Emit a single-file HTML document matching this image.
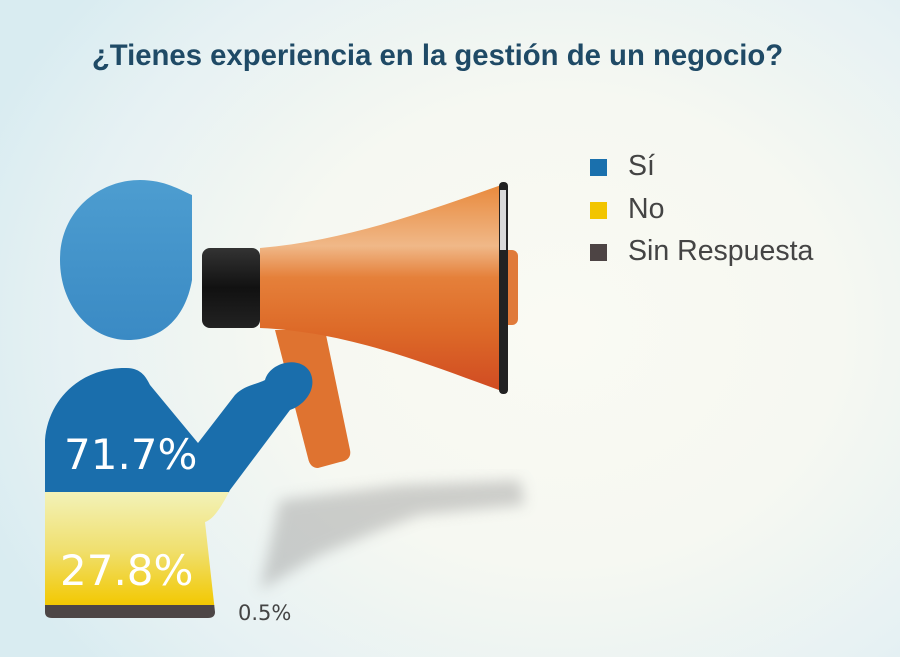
<!DOCTYPE html>
<html><head><meta charset="utf-8"><style>
html,body{margin:0;padding:0}
body{width:900px;height:657px;overflow:hidden;position:relative;font-family:"Liberation Sans",sans-serif;
background:radial-gradient(ellipse 620px 520px at 560px 330px,#fafaf3 0%,#f6f8f2 45%,#e6f1f3 80%,#d9ecf1 100%);}
.title{position:absolute;left:0;width:875px;top:39px;text-align:center;font-weight:bold;font-size:29.3px;color:#1f4a66;white-space:nowrap}
.lg{position:absolute;left:590px;font-size:28.5px;color:#444}
.lg span{position:absolute;left:0;top:6px;width:17px;height:17px}
.lg b{font-weight:normal;position:absolute;left:38px;top:-3px;white-space:nowrap}
</style></head><body>
<div class="title">¿Tienes experiencia en la gestión de un negocio?</div>
<div class="lg" style="top:153px"><span style="background:#1a70ad"></span><b>Sí</b></div>
<div class="lg" style="top:196px"><span style="background:#f2c500"></span><b>No</b></div>
<div class="lg" style="top:238px"><span style="background:#4d4444"></span><b>Sin Respuesta</b></div>
<svg width="900" height="657" style="position:absolute;left:0;top:0">
<defs>
<filter id="bl"><feGaussianBlur stdDeviation="7"/></filter>
<linearGradient id="head" x1="0" y1="0" x2="0" y2="1"><stop offset="0" stop-color="#4d9dd0"/><stop offset="1" stop-color="#3a8ac4"/></linearGradient>
<linearGradient id="yel" x1="0" y1="0" x2="0" y2="1"><stop offset="0" stop-color="#f3f2b8"/><stop offset="0.5" stop-color="#f0e070"/><stop offset="1" stop-color="#f2c800"/></linearGradient>
<linearGradient id="horn" x1="0" y1="0" x2="0" y2="1"><stop offset="0" stop-color="#e8883a"/><stop offset="0.3" stop-color="#f0b888"/><stop offset="0.45" stop-color="#e5803a"/><stop offset="0.7" stop-color="#dd6a28"/><stop offset="1" stop-color="#d04a22"/></linearGradient>
<linearGradient id="blk" x1="0" y1="0" x2="0" y2="1"><stop offset="0" stop-color="#333"/><stop offset="0.5" stop-color="#111"/><stop offset="1" stop-color="#222"/></linearGradient>
<clipPath id="bodyc"><path d="M45,440 C48,400 80,368 125,368 C140,368 145,375 150,385 L198,443 L235,395 C245,385 255,385 265,380 C270,362 300,355 310,372 C318,388 305,405 290,410 L230,490 C220,510 212,520 205,522 L215,612 Q215,618 208,618 L52,618 Q45,618 45,612 Z"/></clipPath>
</defs>
<g filter="url(#bl)" opacity="0.45" fill="#999">
<path d="M280,500 L400,485 L520,480 L525,505 L420,515 L380,530 L320,555 L260,590 Z"/>
</g>
<path d="M60,260 C60,210 100,180 140,180 C165,180 180,190 192,195 L192,280 C185,320 160,340 128,340 C90,340 60,305 60,260 Z" fill="url(#head)"/>
<path d="M275,330 L325,330 L350,450 Q352,460 340,462 L318,468 Q310,468 308,458 Z" fill="#df7330"/>
<g clip-path="url(#bodyc)">
<rect x="40" y="360" width="300" height="133" fill="#1a6eac"/>
<rect x="40" y="492" width="300" height="114" fill="url(#yel)"/>
<rect x="40" y="605" width="300" height="20" fill="#4d4646"/>
</g>
<path d="M260,248 C350,240 430,210 507,183 L507,393 C430,365 350,332 260,328 Z" fill="url(#horn)"/>
<rect x="500" y="250" width="18" height="75" rx="6" fill="#e07a3a"/>
<rect x="499" y="182" width="9" height="212" rx="4" fill="#222"/>
<rect x="500" y="190" width="6" height="60" fill="#eee" opacity="0.9"/>
<rect x="202" y="248" width="58" height="80" rx="8" fill="url(#blk)"/>
<text x="64" y="469" font-size="42" fill="#fff" font-family="DejaVu Sans,sans-serif">71.7%</text>
<text x="60" y="585" font-size="42" fill="#fff" font-family="DejaVu Sans,sans-serif">27.8%</text>
<text x="238" y="620" font-size="21" fill="#444" font-family="DejaVu Sans,sans-serif">0.5%</text>
</svg>
</body></html>
